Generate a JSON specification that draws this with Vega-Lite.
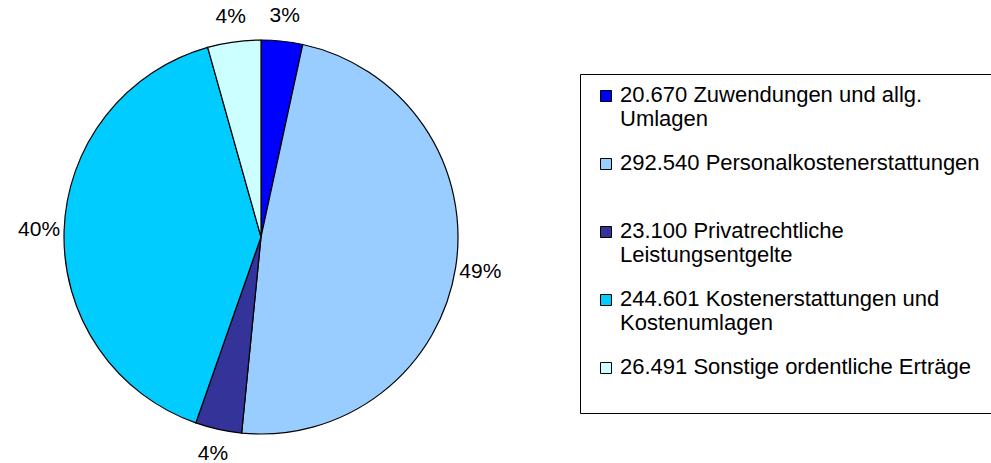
{
  "$schema": "https://vega.github.io/schema/vega-lite/v6.json",
  "width": 522,
  "height": 452,
  "autosize": "none",
  "padding": {"left": 0, "top": 11, "right": 469, "bottom": 0},
  "background": "white",
  "data": {
    "values": [
      {"idx": 1, "cat": "20.670 Zuwendungen und allg.|Umlagen", "value": 20670, "pct": "3%"},
      {"idx": 2, "cat": "292.540 Personalkostenerstattungen|", "value": 292540, "pct": "49%"},
      {"idx": 3, "cat": "23.100 Privatrechtliche|Leistungsentgelte", "value": 23100, "pct": "4%"},
      {"idx": 4, "cat": "244.601 Kostenerstattungen und|Kostenumlagen", "value": 244601, "pct": "40%"},
      {"idx": 5, "cat": "26.491 Sonstige ordentliche Erträge|", "value": 26491, "pct": "4%"}
    ]
  },
  "encoding": {
    "theta": {"field": "value", "type": "quantitative", "stack": true},
    "order": {"field": "idx", "type": "quantitative"}
  },
  "layer": [
    {
      "mark": {"type": "arc", "outerRadius": 197, "stroke": "black", "strokeWidth": 1.2},
      "encoding": {
        "color": {
          "field": "cat",
          "type": "nominal",
          "scale": {
            "domain": [
              "20.670 Zuwendungen und allg.|Umlagen",
              "292.540 Personalkostenerstattungen|",
              "23.100 Privatrechtliche|Leistungsentgelte",
              "244.601 Kostenerstattungen und|Kostenumlagen",
              "26.491 Sonstige ordentliche Erträge|"
            ],
            "range": ["#0000FF", "#99CCFF", "#333399", "#00CCFF", "#CCFFFF"]
          },
          "legend": {
            "title": null,
            "orient": "none",
            "legendX": 580,
            "legendY": 63,
            "strokeColor": "black",
            "fillColor": "white",
            "padding": 11,
            "symbolType": "square",
            "symbolSize": 121,
            "symbolOffset": 4,
            "symbolStrokeColor": "black",
            "symbolStrokeWidth": 1,
            "labelFont": "Liberation Sans",
            "labelFontSize": 22,
            "labelLineHeight": 27,
            "labelLimit": 0,
            "labelColor": "black",
            "labelBaseline": "alphabetic",
            "labelOffset": 3,
            "rowPadding": 22,
            "labelExpr": "split(datum.label, '|')",
            "encode": {"labels": {"update": {"dy": {"value": 6}}}}
          }
        }
      }
    },
    {
      "mark": {"type": "text", "radius": 222, "fontSize": 21, "font": "Liberation Sans", "color": "black"},
      "encoding": {"text": {"field": "pct", "type": "nominal"}}
    }
  ],
  "config": {"view": {"stroke": null}}
}
